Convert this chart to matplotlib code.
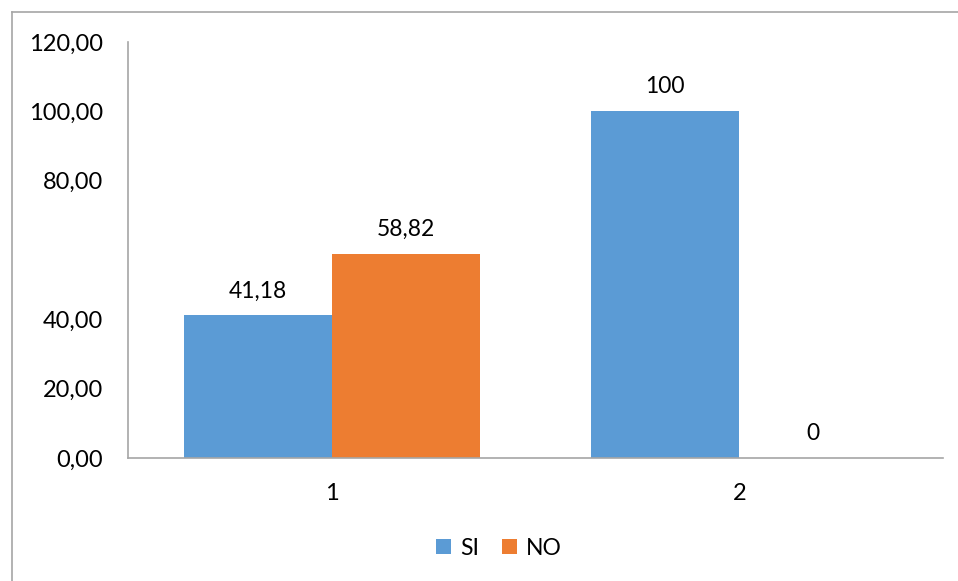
import numpy as np
import matplotlib.pyplot as plt
from matplotlib.lines import Line2D

plt.rcParams['font.family'] = ['Lato', 'DejaVu Sans']

categories = ["1", "2"]
si = [41.18, 100]
no = [58.82, 0]
si_labels = ["41,18", "100"]
no_labels = ["58,82", "0"]
yticks = [0, 20, 40, 80, 100, 120]

blue = "#5B9BD5"
orange = "#ED7D31"
grey = "#a6a6a6"

fig = plt.figure(figsize=(9.58, 5.81), dpi=100)
ax = fig.add_axes([0.1336, 0.2117, 0.8507, 0.716])

x = np.arange(1, len(categories) + 1)
w = 0.363
b1 = ax.bar(x - w / 2, si, w, color=blue, label="SI")
b2 = ax.bar(x + w / 2, no, w, color=orange, label="NO")

for bars, labs in ((b1, si_labels), (b2, no_labels)):
    for r, t in zip(bars, labs):
        ax.annotate(t, (r.get_x() + r.get_width() / 2, r.get_height()),
                    xytext=(0, 10), textcoords="offset points",
                    ha="center", va="bottom", fontsize=16.5)

ax.set_xlim(0.5, 2.5)
ax.set_ylim(0, 120)
ax.set_xticks(x)
ax.set_xticklabels(categories)
ax.set_yticks(yticks)
ax.set_yticklabels([f"{v:.2f}".replace(".", ",") for v in yticks])
ax.tick_params(axis="both", length=0, labelsize=17)
ax.tick_params(axis="y", pad=18)
ax.tick_params(axis="x", pad=18)

for s in ("top", "right"):
    ax.spines[s].set_visible(False)
ax.spines["left"].set_color(grey)
ax.spines["bottom"].set_color(grey)
ax.spines["left"].set_linewidth(1.2)
ax.spines["bottom"].set_linewidth(1.2)

ax.legend(loc="center", bbox_to_anchor=(0.455, -0.217), ncol=2, frameon=False,
          fontsize=16.5, handlelength=0.65, handleheight=0.65, handletextpad=0.4,
          columnspacing=1.0)

# outer frame edges
fig.add_artist(Line2D([12 / 958, 12 / 958], [0, 1 - 12 / 581],
                      color=grey, lw=1.2, transform=fig.transFigure))
fig.add_artist(Line2D([12 / 958, 1], [1 - 12 / 581, 1 - 12 / 581],
                      color=grey, lw=1.2, transform=fig.transFigure))

fig.savefig("out.png", dpi=100)
